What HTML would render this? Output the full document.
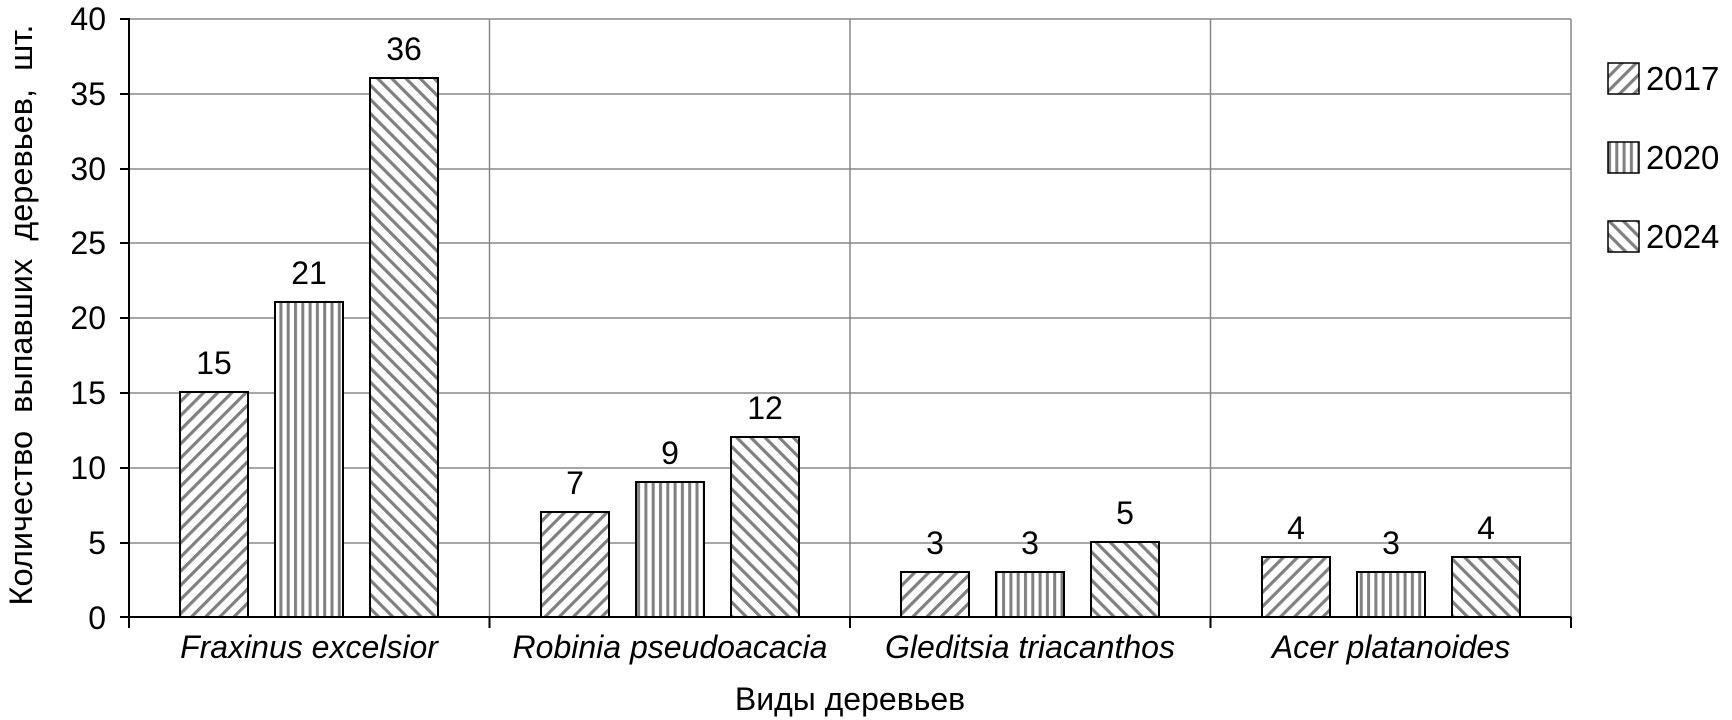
<!DOCTYPE html>
<html><head><meta charset="utf-8"><style>
html,body{margin:0;padding:0;background:#fff;}
svg{display:block;font-family:"Liberation Sans",Arial,sans-serif;}
</style></head><body>
<svg width="1732" height="720" viewBox="0 0 1732 720" xmlns="http://www.w3.org/2000/svg">
<defs>
<pattern id="p17" patternUnits="userSpaceOnUse" width="10" height="10" patternTransform="rotate(45)">
<rect width="10" height="10" fill="#fff"/><rect x="0" y="0" width="3.2" height="10" fill="#808080"/></pattern>
<pattern id="p20" patternUnits="userSpaceOnUse" width="7.3" height="10">
<rect width="7.3" height="10" fill="#fff"/><rect x="2" y="0" width="3" height="10" fill="#808080"/></pattern>
<pattern id="p24" patternUnits="userSpaceOnUse" width="10" height="10" patternTransform="rotate(-45)">
<rect width="10" height="10" fill="#fff"/><rect x="0" y="0" width="3.2" height="10" fill="#808080"/></pattern>
</defs>
<g stroke="#888" stroke-width="1.5">
<line x1="129" y1="19" x2="1571" y2="19"/>
<line x1="129" y1="94" x2="1571" y2="94"/>
<line x1="129" y1="169" x2="1571" y2="169"/>
<line x1="129" y1="243" x2="1571" y2="243"/>
<line x1="129" y1="318" x2="1571" y2="318"/>
<line x1="129" y1="393" x2="1571" y2="393"/>
<line x1="129" y1="468" x2="1571" y2="468"/>
<line x1="129" y1="543" x2="1571" y2="543"/>
<line x1="489.5" y1="19" x2="489.5" y2="617"/>
<line x1="850" y1="19" x2="850" y2="617"/>
<line x1="1210.5" y1="19" x2="1210.5" y2="617"/>
<line x1="1571" y1="19" x2="1571" y2="617"/>
</g>
<g stroke="#000" stroke-width="2">
<line x1="129" y1="18" x2="129" y2="618"/>
<line x1="120" y1="617" x2="1571" y2="617"/>
<line x1="120" y1="19" x2="129" y2="19"/><line x1="120" y1="94" x2="129" y2="94"/><line x1="120" y1="169" x2="129" y2="169"/><line x1="120" y1="243" x2="129" y2="243"/><line x1="120" y1="318" x2="129" y2="318"/><line x1="120" y1="393" x2="129" y2="393"/><line x1="120" y1="468" x2="129" y2="468"/><line x1="120" y1="543" x2="129" y2="543"/>
<line x1="129" y1="617" x2="129" y2="628"/><line x1="489.5" y1="617" x2="489.5" y2="628"/><line x1="850" y1="617" x2="850" y2="628"/><line x1="1210.5" y1="617" x2="1210.5" y2="628"/><line x1="1571" y1="617" x2="1571" y2="628"/>
</g>
<g font-size="32" text-anchor="end" fill="#000">
<text x="106" y="629">0</text><text x="106" y="554">5</text><text x="106" y="479">10</text><text x="106" y="404">15</text><text x="106" y="329">20</text><text x="106" y="254">25</text><text x="106" y="180">30</text><text x="106" y="105">35</text><text x="106" y="30">40</text>
</g>
<g stroke="#000" stroke-width="2">
<rect x="180" y="392" width="68" height="225" fill="url(#p17)"/>
<rect x="275" y="302" width="68" height="315" fill="url(#p20)"/>
<rect x="370" y="78" width="68" height="539" fill="url(#p24)"/>
<rect x="541" y="512" width="68" height="105" fill="url(#p17)"/>
<rect x="636" y="482" width="68" height="135" fill="url(#p20)"/>
<rect x="731" y="437" width="68" height="180" fill="url(#p24)"/>
<rect x="901" y="572" width="68" height="45" fill="url(#p17)"/>
<rect x="996" y="572" width="68" height="45" fill="url(#p20)"/>
<rect x="1091" y="542" width="68" height="75" fill="url(#p24)"/>
<rect x="1262" y="557" width="68" height="60" fill="url(#p17)"/>
<rect x="1357" y="572" width="68" height="45" fill="url(#p20)"/>
<rect x="1452" y="557" width="68" height="60" fill="url(#p24)"/>
</g>
<g font-size="32" text-anchor="middle">
<text x="214" y="374">15</text><text x="309" y="284">21</text><text x="404" y="60">36</text>
<text x="575" y="494">7</text><text x="670" y="464">9</text><text x="765" y="419">12</text>
<text x="935" y="554">3</text><text x="1030" y="554">3</text><text x="1125" y="524">5</text>
<text x="1296" y="539">4</text><text x="1391" y="554">3</text><text x="1486" y="539">4</text>
</g>
<g font-size="32" text-anchor="middle" font-style="italic">
<text x="309" y="658">Fraxinus excelsior</text>
<text x="670" y="658">Robinia pseudoacacia</text>
<text x="1030" y="658">Gleditsia triacanthos</text>
<text x="1391" y="658">Acer platanoides</text>
</g>
<text x="850" y="710" font-size="32" text-anchor="middle">Виды деревьев</text>
<text transform="translate(32,315) rotate(-90)" font-size="32.5" text-anchor="middle" xml:space="preserve">Количество  выпавших  деревьев,  шт.</text>
<g stroke="#000" stroke-width="1.5">
<rect x="1608" y="63" width="31" height="31" fill="url(#p17)"/>
<rect x="1608" y="142" width="31" height="31" fill="url(#p20)"/>
<rect x="1608" y="221" width="31" height="31" fill="url(#p24)"/>
</g>
<g font-size="33">
<text x="1646" y="90">2017</text><text x="1646" y="169">2020</text><text x="1646" y="248">2024</text>
</g>
</svg>
</body></html>
